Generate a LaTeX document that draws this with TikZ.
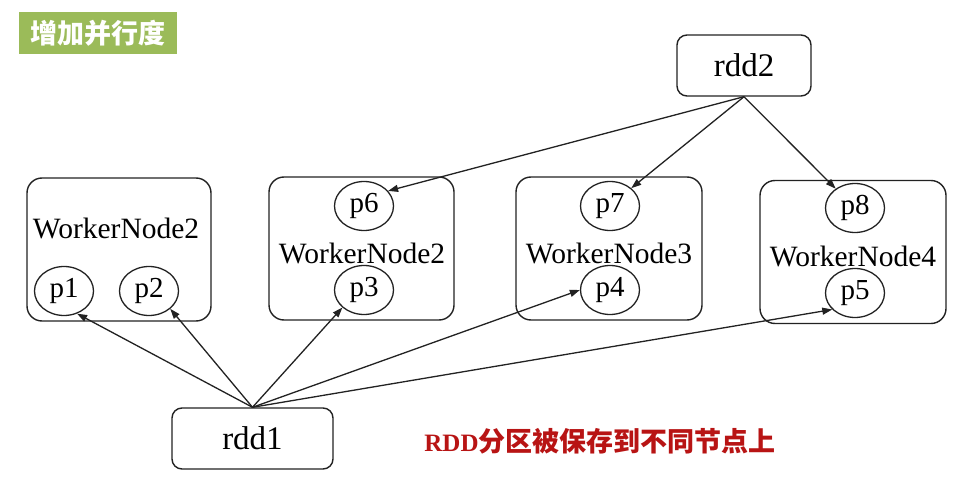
\documentclass[tikz,border=0pt]{standalone}
\usepackage{fontspec}
\setmainfont{Liberation Serif}
\newfontfamily\cjk{Noto Sans CJK SC}
\usetikzlibrary{shapes.geometric,arrows.meta}
\definecolor{titlegreen}{HTML}{9BBB59}
\definecolor{notered}{HTML}{B81414}
\definecolor{lineclr}{HTML}{222222}
\begin{document}
\begin{tikzpicture}[x=1pt,y=-1pt,
  cluster/.style={draw=lineclr,line width=1.4pt,rounded corners=15pt,minimum width=#1,minimum height=143pt,inner sep=0pt},
  cluster/.default=185pt,
  part/.style={draw=lineclr,line width=1.3pt,ellipse,minimum width=59pt,minimum height=49pt,inner sep=0pt,font=\fontsize{29}{31}\selectfont},
  wlabel/.style={inner sep=0pt,font=\fontsize{29.5}{31}\selectfont},
  rddbox/.style={draw=lineclr,line width=1.4pt,rounded corners=10pt,minimum width=134pt,minimum height=61pt,inner sep=0pt,font=\fontsize{33}{35}\selectfont},
  conn/.style={draw=lineclr,line width=1.3pt,-{Triangle[length=10pt,width=7pt]}}
]
\useasboundingbox (0,0) rectangle (964,478);
\fill[white] (0,0) rectangle (964,478);

% title
\node[fill=titlegreen,text=white,minimum width=158pt,minimum height=42pt,inner sep=0pt,
  font=\cjk\bfseries\fontsize{27}{29}\selectfont] (title) at (98,33) {增加并行度};

% clusters
\node[cluster=184pt] (w1) at (119,249.5) {};
\node[cluster=185pt] (w2) at (361.5,248.5) {};
\node[cluster=186pt] (w3) at (609,248.5) {};
\node[cluster=186pt] (w4) at (853,252) {};

\node[wlabel] (l1) at (116,228) {WorkerNode2};
\node[wlabel] (l2) at (362,253) {WorkerNode2};
\node[wlabel] (l3) at (609,253) {WorkerNode3};
\node[wlabel] (l4) at (853,256) {WorkerNode4};

% partitions
\node[part] (p1) at (64,291) {p1};
\node[part] (p2) at (149,291) {p2};
\node[part] (p6) at (364,206) {p6};
\node[part] (p3) at (364,290) {p3};
\node[part] (p7) at (610,206) {p7};
\node[part] (p4) at (610,290) {p4};
\node[part] (p8) at (855,208) {p8};
\node[part] (p5) at (855,293) {p5};

% rdds
\node[rddbox] (rdd2) at (744,65.5) {rdd2};
\node[rddbox,minimum width=161pt] (rdd1) at (252.5,438.5) {rdd1};

% caption
\node[inner sep=0pt,text=notered] (cap) at (600,441)
  {\fontsize{25}{27}\selectfont\bfseries RDD{\cjk\fontsize{27}{29}\selectfont\bfseries 分区被保存到不同节点上}};

% connectors
\draw[conn] (rdd1.north) -- (p1.-60);
\draw[conn] (rdd1.north) -- (p2.-40);
\draw[conn] (rdd1.north) -- (p3.-141);
\draw[conn] (rdd1.north) -- (p4.180);
\draw[conn] (rdd1.north) -- (p5.-144);
\draw[conn] (rdd2.south) -- (p6.32);
\draw[conn] (rdd2.south) -- (p7.40);
\draw[conn] (rdd2.south) -- (p8.135);
\end{tikzpicture}
\end{document}
